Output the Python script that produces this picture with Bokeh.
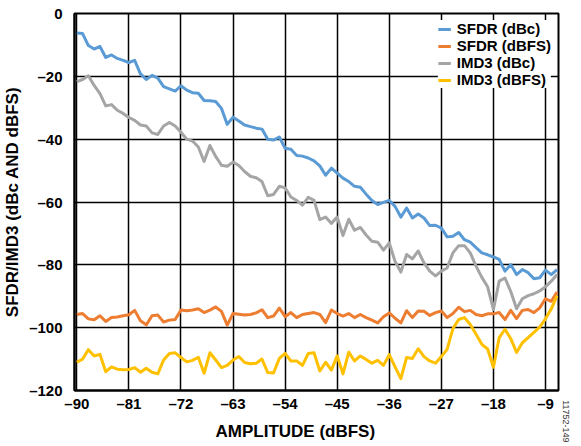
from bokeh.plotting import figure
from bokeh.models import FixedTicker, Legend, LegendItem, Range1d, Title
from bokeh.embed import file_html
from bokeh.resources import INLINE

amplitude = list(range(-90, -6))  # -90 ... -7 dBFS

sfdr_dbc = [-6.2, -6.4, -10.2, -11.3, -10.5, -14.0, -13.2, -14.3, -14.9, -15.6,
            -14.9, -19.2, -21.0, -19.7, -20.6, -23.3, -24.0, -24.7, -23.0, -24.4,
            -25.2, -25.4, -27.7, -27.8, -28.0, -30.2, -35.3, -33.0, -34.2, -35.5,
            -36.0, -36.5, -36.8, -40.0, -40.3, -39.3, -42.9, -43.2, -45.2, -45.4,
            -46.0, -46.9, -48.5, -51.5, -49.2, -50.8, -52.4, -53.5, -55.0, -55.3,
            -57.5, -59.5, -60.8, -60.1, -59.5, -61.4, -64.8, -61.9, -65.1, -63.8,
            -65.1, -67.5, -67.4, -68.3, -71.1, -70.9, -69.7, -72.0, -72.8, -74.5,
            -76.2, -76.8, -77.5, -78.3, -82.0, -79.9, -83.1, -81.5, -82.5, -84.4,
            -84.1, -81.7, -83.1, -81.5]

sfdr_dbfs = [-95.8, -95.5, -97.2, -97.5, -96.2, -98.0, -96.8, -96.6, -96.2, -95.9,
             -94.5, -97.8, -99.1, -96.2, -96.0, -98.2, -97.6, -97.4, -94.4, -94.6,
             -94.4, -94.0, -95.2, -94.4, -93.4, -94.8, -99.2, -95.5, -95.7, -96.0,
             -95.8, -95.3, -94.3, -96.8, -96.3, -93.8, -96.5, -95.2, -96.8, -95.8,
             -95.5, -95.2, -95.8, -98.4, -94.4, -95.5, -96.3, -95.5, -96.8, -95.8,
             -96.8, -97.6, -98.5, -96.5, -95.3, -97.0, -98.5, -94.6, -96.8, -94.7,
             -94.8, -96.1, -95.2, -94.7, -96.8, -95.5, -93.5, -94.9, -94.5, -95.8,
             -96.2, -95.6, -95.6, -95.2, -97.4, -94.5, -97.1, -94.5, -94.2, -95.2,
             -93.7, -90.8, -91.6, -88.7]

imd3_dbc = [-21.7, -21.0, -19.8, -22.9, -25.5, -29.4, -29.0, -30.8, -31.8, -33.1,
            -34.0, -35.5, -35.8, -38.0, -38.5, -35.8, -34.7, -35.8, -37.8, -40.0,
            -40.6, -42.5, -47.1, -42.0, -45.5, -48.3, -48.6, -47.3, -48.4, -50.3,
            -51.8, -52.3, -53.5, -58.0, -57.6, -55.0, -55.5, -58.4, -59.5, -61.0,
            -58.5, -59.5, -65.6, -64.8, -66.8, -64.8, -70.7, -65.5, -69.0, -68.1,
            -70.5, -72.5, -72.8, -75.3, -73.0, -78.9, -82.3, -76.7, -78.1, -75.6,
            -79.4, -82.0, -83.5, -82.0, -81.0, -76.2, -73.9, -73.9, -76.2, -80.4,
            -84.0, -87.0, -94.2, -85.2, -84.2, -88.5, -94.0, -90.8, -89.8, -89.2,
            -88.3, -87.0, -85.2, -83.1]

imd3_dbfs = [-111.0, -110.0, -107.0, -109.0, -108.5, -114.0, -112.5, -113.2, -113.4, -113.3,
             -112.7, -114.2, -112.9, -114.2, -114.7, -110.3, -108.2, -108.0, -109.5, -110.9,
             -110.4, -109.4, -114.5, -108.0, -110.3, -112.7, -112.0, -110.3, -109.2, -111.1,
             -111.5, -111.3, -110.0, -114.3, -114.4, -109.8, -108.2, -110.6, -110.6, -112.0,
             -108.2, -108.0, -113.8, -111.0, -113.5, -109.0, -114.7, -107.8, -110.6, -109.0,
             -110.1, -111.3, -110.4, -112.0, -108.6, -112.5, -116.2, -109.5, -109.8, -106.7,
             -109.2, -110.6, -111.3, -109.2, -106.9, -100.3, -97.4, -96.8, -99.0, -102.1,
             -105.3, -106.8, -112.6, -103.2, -100.5, -103.5, -107.9, -104.8, -103.2, -101.5,
             -99.8, -97.2, -94.0, -89.8]

x_ticks = [-90, -81, -72, -63, -54, -45, -36, -27, -18, -9]
y_ticks = [-120, -100, -80, -60, -40, -20, 0]

series_names = ["SFDR (dBc)", "SFDR (dBFS)", "IMD3 (dBc)", "IMD3 (dBFS)"]
series_colors = ["#5B9BD5", "#ED7D31", "#A5A5A5", "#FFC000"]

x_title = "AMPLITUDE (dBFS)"
y_title = "SFDR/IMD3 (dBc AND dBFS)"
figure_code = "11752-149"

FONT = "Liberation Sans"

p = figure(frame_width=484, frame_height=377, output_backend="svg", toolbar_location=None,
           x_range=Range1d(-90.4, -6.75), y_range=Range1d(-120, 0),
           min_border_left=72, min_border_right=25, min_border_top=13,
           min_border_bottom=10)
p.background_fill_color = "white"
p.border_fill_color = "white"
p.outline_line_color = "black"
p.outline_line_width = 2

renderers = []
for vals, col in zip([sfdr_dbc, sfdr_dbfs, imd3_dbc, imd3_dbfs], series_colors):
    r = p.line(amplitude, vals, line_color=col, line_width=3, line_join="round")
    renderers.append(r)

for ax in (p.xaxis[0], p.yaxis[0]):
    ax.axis_line_color = "black"
    ax.axis_line_width = 2
    ax.major_tick_in = 0
    ax.major_tick_out = 0
    ax.minor_tick_in = 0
    ax.minor_tick_out = 0
    ax.major_label_text_font = FONT
    ax.major_label_text_font_style = "bold"
    ax.major_label_text_font_size = "15px"
    ax.major_label_text_color = "black"

p.xaxis[0].ticker = FixedTicker(ticks=x_ticks)
p.yaxis[0].ticker = FixedTicker(ticks=y_ticks)
p.xaxis[0].major_label_overrides = {t: ("\u2013" + str(-t)) if t < 0 else str(t) for t in x_ticks}
p.yaxis[0].major_label_overrides = {t: ("\u2013" + str(-t)) if t < 0 else str(t) for t in y_ticks}
p.xaxis[0].major_label_standoff = 4
p.yaxis[0].major_label_standoff = 12

p.yaxis[0].axis_label = y_title
p.yaxis[0].axis_label_text_font = FONT
p.yaxis[0].axis_label_text_font_style = "bold"
p.yaxis[0].axis_label_text_font_size = "17px"
p.yaxis[0].axis_label_text_color = "black"
p.yaxis[0].axis_label_standoff = 4

for g in (p.xgrid[0], p.ygrid[0]):
    g.grid_line_color = "black"
    g.grid_line_width = 1.5
    g.grid_line_alpha = 1.0

legend = Legend(items=[LegendItem(label=n, renderers=[r]) for n, r in zip(series_names, renderers)],
                location="top_right")
legend.label_text_font = FONT
legend.label_text_font_style = "bold"
legend.label_text_font_size = "15px"
legend.label_text_line_height = 1.0
legend.label_text_color = "black"
legend.border_line_color = None
legend.background_fill_color = "white"
legend.background_fill_alpha = 1.0
legend.glyph_width = 13
legend.glyph_height = 14
legend.label_height = 14
legend.label_standoff = 6
legend.spacing = 0
legend.padding = 3
legend.margin = 7
p.add_layout(legend)

xt = Title(text=x_title, align="left", offset=141, standoff=10,
           text_font=FONT, text_font_style="bold", text_font_size="17px",
           text_color="black")
p.add_layout(xt, "below")

code = Title(text=figure_code, align="right", offset=-52, standoff=8,
             text_font=FONT, text_font_style="normal", text_font_size="9px",
             text_color="#333333")
p.add_layout(code, "right")

open("out.html", "w").write(file_html(p, INLINE))
